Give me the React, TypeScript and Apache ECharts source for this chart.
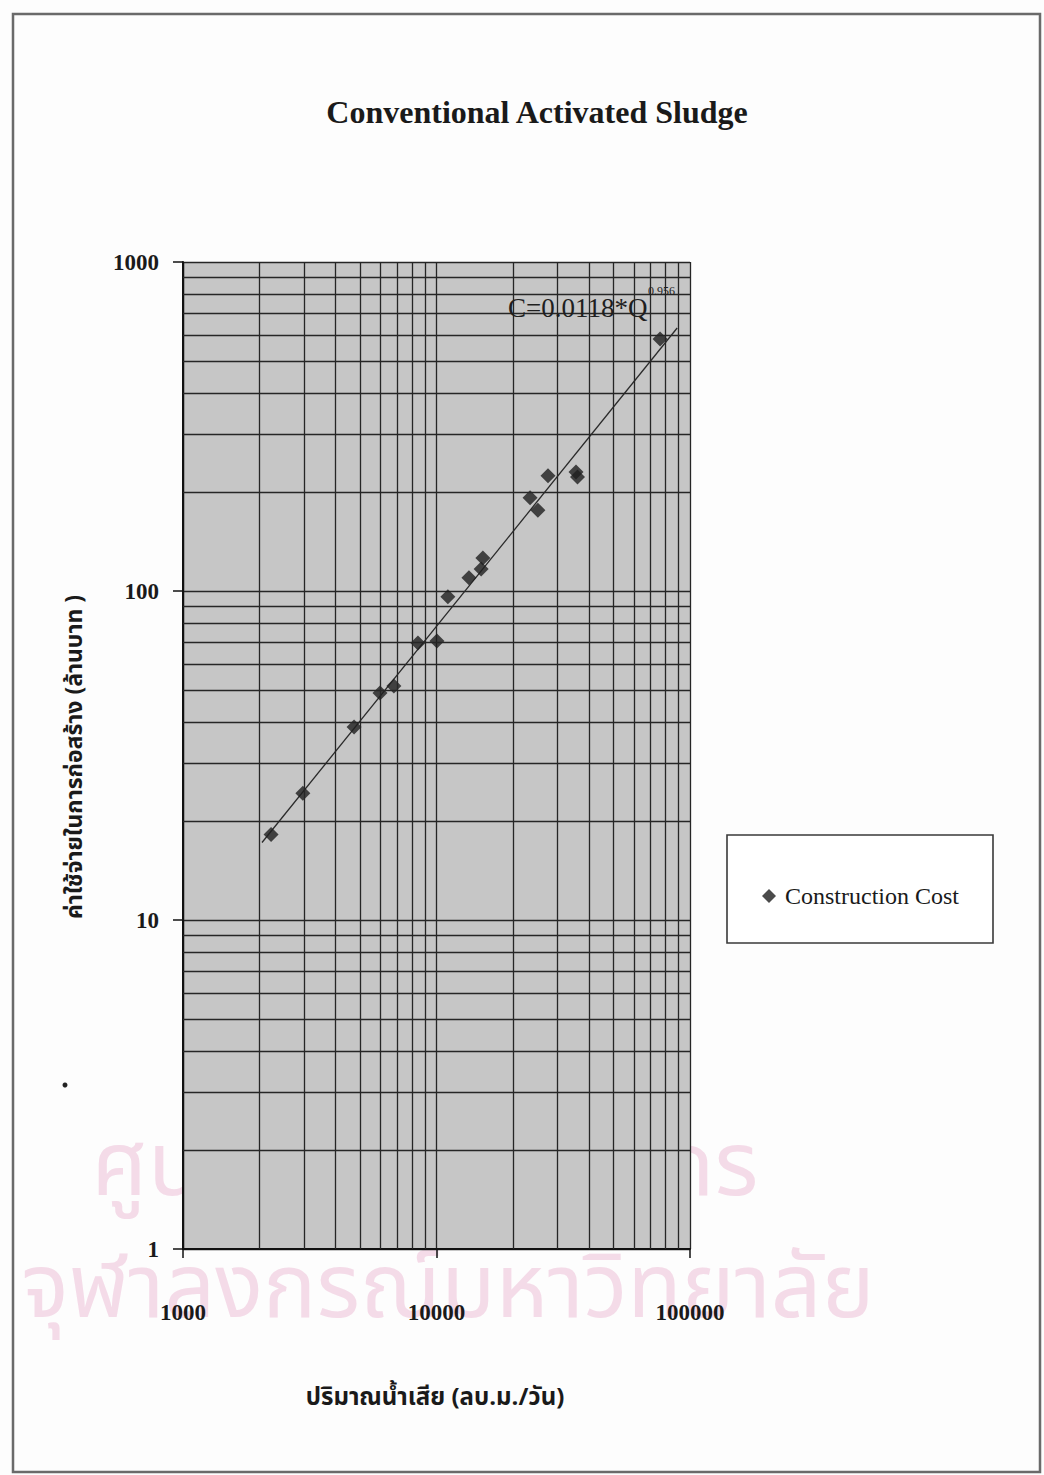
import React, { useEffect, useRef } from "react";
import * as echarts from "echarts";

// Data
const flowQ = [2225, 2970, 4730, 5985, 6790, 8450, 10040, 11090, 13430, 15000, 15240, 23390, 25120, 27540, 35500, 36000, 76200];
const costC = [18.2, 24.3, 38.6, 49.0, 51.4, 69.5, 70.5, 96, 109.7, 116.7, 126, 192, 176, 224, 230, 222, 583];
const trendQ = [2050, 89000];
const trendC = [17.2, 630];

const xMinorGrid = [2000, 3000, 4000, 5000, 6000, 7000, 8000, 9000, 20000, 30000, 40000, 50000, 60000, 70000, 80000, 90000];
const yMinorGrid = [2, 3, 4, 5, 6, 7, 8, 9, 20, 30, 40, 50, 60, 70, 80, 90, 200, 300, 400, 500, 600, 700, 800, 900];

const titleText = "Conventional Activated Sludge";
const xTitle = "ปริมาณน้ำเสีย (ลบ.ม./วัน)";
const yTitle = "ค่าใช้จ่ายในการก่อสร้าง (ล้านบาท )";
const seriesName = "Construction Cost";
const eqMain = "C=0.0118*Q";
const eqExp = "0.956";
const watermark1 = "ศูนย์วิทยทรัพยากร";
const watermark2 = "จุฬาลงกรณ์มหาวิทยาลัย";

const SERIF = "'Liberation Serif', 'DejaVu Serif', serif";
const THAI = "'Noto Sans Thai', 'Noto Serif Thai', 'Loma', 'Garuda', 'Norasi', 'Kinnari', 'DejaVu Sans', sans-serif";

export default function App() {
  const ref = useRef<HTMLDivElement>(null);
  useEffect(() => {
    document.body.style.margin = "0";
    const chart = echarts.init(ref.current!, null, { renderer: "svg" });
    const gridLine = { type: "solid", color: "#262626", width: 1.3 };
    const option: any = {
      animation: false,
      backgroundColor: "#fdfdfd",
      title: {
        text: titleText,
        left: 532,
        top: 91,
        textAlign: "center",
        textStyle: { fontFamily: SERIF, fontWeight: "bold", fontSize: 32, color: "#1a1a1a" },
      },
      legend: {
        data: [seriesName],
        left: 757,
        top: 879,
        z: 20,
        icon: "diamond",
        itemWidth: 14,
        itemHeight: 14,
        itemGap: 8,
        textStyle: { fontFamily: SERIF, fontSize: 24, color: "#1a1a1a", padding: [0, 0, 0, 4] },
      },
      grid: {
        left: 183,
        top: 262,
        width: 507,
        height: 987,
        show: true,
        backgroundColor: "#c6c6c6",
        borderWidth: 0,
      },
      xAxis: {
        type: "log",
        logBase: 10,
        min: 1000,
        max: 100000,
        axisLine: { show: true, onZero: false, lineStyle: { color: "#111", width: 2 } },
        axisTick: { show: true, length: 9, lineStyle: { color: "#111", width: 1.5 } },
        axisLabel: {
          margin: 52,
          fontFamily: SERIF,
          fontSize: 23,
          fontWeight: "bold",
          color: "#1a1a1a",
          formatter: (v: number) => String(Math.round(v)),
        },
        splitLine: { show: true, lineStyle: gridLine },
      },
      yAxis: {
        type: "log",
        logBase: 10,
        min: 1,
        max: 1000,
        axisLine: { show: true, onZero: false, lineStyle: { color: "#111", width: 2 } },
        axisTick: { show: true, length: 10, lineStyle: { color: "#111", width: 1.5 } },
        axisLabel: {
          margin: 24,
          fontFamily: SERIF,
          fontSize: 23,
          fontWeight: "bold",
          color: "#1a1a1a",
          formatter: (v: number) => String(Math.round(v)),
        },
        splitLine: { show: true, lineStyle: gridLine },
      },
      series: [
        {
          name: "grid-minor",
          type: "line",
          data: [],
          silent: true,
          z: 1,
          markLine: {
            silent: true,
            symbol: ["none", "none"],
            label: { show: false },
            lineStyle: gridLine,
            emphasis: { disabled: true },
            data: [
              ...xMinorGrid.map((v) => ({ xAxis: v })),
              ...yMinorGrid.map((v) => ({ yAxis: v })),
            ],
          },
        },
        {
          name: "trend",
          type: "line",
          z: 3,
          symbol: "none",
          data: trendQ.map((q, i) => [q, trendC[i]]),
          lineStyle: { color: "#2a2a2a", width: 1.3 },
        },
        {
          name: seriesName,
          type: "scatter",
          z: 4,
          symbol: "diamond",
          symbolSize: 15,
          itemStyle: { color: "#1e1e1e" },
          data: flowQ.map((q, i) => [q, costC[i]]),
        },
      ],
      graphic: [
        {
          type: "rect",
          z: -5,
          shape: { x: 13, y: 14, width: 1027, height: 1458 },
          style: { fill: "none", stroke: "#6a6a6a", lineWidth: 2.5 },
        },
        {
          type: "text",
          z: -10,
          x: 425,
          y: 1168,
          style: { text: watermark1, font: `90px ${THAI}`, fill: "#f4dbe8", textAlign: "center", textVerticalAlign: "middle" },
        },
        {
          type: "text",
          z: -10,
          x: 448,
          y: 1290,
          style: { text: watermark2, font: `89px ${THAI}`, fill: "#f4dbe8", textAlign: "center", textVerticalAlign: "middle" },
        },
        {
          type: "rect",
          z: 1,
          shape: { x: 727, y: 835, width: 266, height: 108 },
          style: { fill: "#ffffff", stroke: "#3a3a3a", lineWidth: 1.6 },
        },
        {
          type: "text",
          z: 10,
          x: 75,
          y: 757,
          rotation: Math.PI / 2,
          style: { text: yTitle, font: `bold 23px ${THAI}`, fill: "#1a1a1a", textAlign: "center", textVerticalAlign: "middle" },
        },
        {
          type: "text",
          z: 10,
          x: 435,
          y: 1398,
          style: { text: xTitle, font: `bold 24px ${THAI}`, fill: "#1a1a1a", textAlign: "center", textVerticalAlign: "middle" },
        },
        {
          type: "text",
          z: 10,
          x: 508,
          y: 308,
          style: { text: eqMain, font: `27px ${SERIF}`, fill: "#1f1f1f", textAlign: "left", textVerticalAlign: "middle" },
        },
        {
          type: "text",
          z: 10,
          x: 648,
          y: 291,
          style: { text: eqExp, font: `12px ${SERIF}`, fill: "#1f1f1f", textAlign: "left", textVerticalAlign: "middle" },
        },
        {
          type: "circle",
          z: 10,
          shape: { cx: 65, cy: 1085, r: 2.5 },
          style: { fill: "#222" },
        },
      ],
    };
    chart.setOption(option);
    return () => chart.dispose();
  }, []);
  return (
    <div
      ref={ref}
      style={{ position: "absolute", left: 0, top: 0, width: 1044, height: 1475 }}
    />
  );
}
